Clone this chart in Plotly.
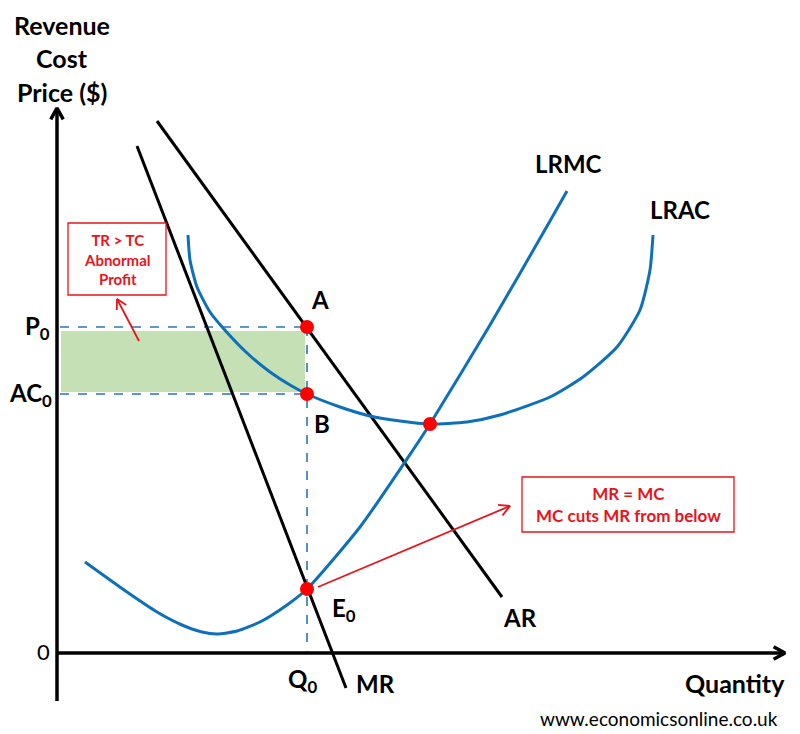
import numpy as np
import plotly.graph_objects as go

# curve points (quantity, price), origin at the axes corner
ar_q = [100, 445]
ar_p = [532, 56]

mr_q = [80, 289]
mr_p = [507, -35]

lrmc_q = [28, 70, 100, 125, 145, 160, 180, 203, 230, 250, 303, 356, 373, 433, 493, 510]
lrmc_p = [91, 61, 41, 28, 21, 19, 22, 31, 48, 64, 126, 203, 229, 328, 432, 462]

lrac_q = [131, 133, 140, 153, 166, 190, 213, 233, 250, 283, 313, 343, 373, 410, 443, 493, 526, 560, 583, 593, 596]
lrac_p = [418, 393, 366, 341, 325, 300, 281, 268, 259, 246, 237, 232, 229, 231, 238, 256, 276, 306, 343, 383, 418]

q0 = 250
p0 = 326
ac0 = 259
e0 = 64
lrac_min = (373, 229)

BLUE = "#0e70b8"
RED = "#e8141c"
FONT = "Lato"

fig = go.Figure()


def arrow(x0, y0, x1, y1, color, width, size=12):
    # shaft plus open chevron head at (x1, y1)
    ang = np.arctan2(y1 - y0, x1 - x0)
    a1 = ang + np.pi - 0.5
    a2 = ang + np.pi + 0.5
    xs = [x0, x1, None, x1 + size * np.cos(a1), x1, x1 + size * np.cos(a2)]
    ys = [y0, y1, None, y1 + size * np.sin(a1), y1, y1 + size * np.sin(a2)]
    fig.add_trace(go.Scatter(x=xs, y=ys, mode="lines", line=dict(color=color, width=width),
                             hoverinfo="skip"))


# profit rectangle
fig.add_shape(type="rect", x0=4, x1=q0 - 2, y0=ac0 + 2, y1=p0 - 4,
              fillcolor="#c5e0b4", line=dict(width=0), layer="below")

# dashed guides
fig.add_trace(go.Scatter(x=[3, q0, None, 3, q0, None, q0, q0], y=[p0, p0, None, ac0, ac0, None, p0, 0],
                         mode="lines", line=dict(color="#2e75b6", width=1.6, dash="dash")))

# axes
arrow(0, -48, 0, 545, "black", 3.5, 13)
arrow(0, 0, 728, 0, "black", 3.5, 13)

# curves
fig.add_trace(go.Scatter(x=ar_q, y=ar_p, mode="lines", line=dict(color="black", width=3)))
fig.add_trace(go.Scatter(x=mr_q, y=mr_p, mode="lines", line=dict(color="black", width=3)))
fig.add_trace(go.Scatter(x=lrmc_q, y=lrmc_p, mode="lines",
                         line=dict(color=BLUE, width=3, shape="spline", smoothing=0.6)))
fig.add_trace(go.Scatter(x=lrac_q, y=lrac_p, mode="lines",
                         line=dict(color=BLUE, width=3, shape="spline", smoothing=0.6)))

# red callout arrows
arrow(82, 312, 60, 354, RED, 1.8, 11)
arrow(261, 66, 453, 147, RED, 1.8, 12)

# intersection dots
fig.add_trace(go.Scatter(x=[q0, q0, q0, lrac_min[0]], y=[p0, ac0, e0, lrac_min[1]], mode="markers",
                         marker=dict(color="#ff0000", size=14)))

# callout boxes
fig.add_shape(type="rect", x0=11, x1=109, y0=358, y1=430, line=dict(color=RED, width=1.3),
              fillcolor="white")
fig.add_shape(type="rect", x0=465, x1=677, y0=121, y1=176, line=dict(color=RED, width=1.3),
              fillcolor="white")

labels = [
    (263, 354, "A", 24, True),
    (265, 230, "B", 24, True),
    (287, 44, "E<sub>0</sub>", 24, True),
    (463, 36, "AR", 24, True),
    (318, -30, "MR", 24, True),
    (245, -27, "Q<sub>0</sub>", 24, True),
    (-20, 326, "P<sub>0</sub>", 24, True),
    (-27, 259, "AC<sub>0</sub>", 24, True),
    (-14, 2, "0", 22, False),
    (511, 490, "LRMC", 24, True),
    (623, 444, "LRAC", 24, True),
    (678, -30, "Quantity", 25, True),
    (602, -65, "www.economicsonline.co.uk", 19, False),
    (5, 628, "Revenue", 25, True),
    (5, 595, "Cost", 25, True),
    (5, 561, "Price ($)", 25, True),
]
for x, y, t, s, b in labels:
    fig.add_annotation(x=x, y=y, text=f"<b>{t}</b>" if b else t, showarrow=False,
                       xanchor="center", yanchor="middle",
                       font=dict(family=FONT, size=s, color="black"))

fig.add_annotation(x=60, y=394, text="<b>TR > TC<br>Abnormal<br>Profit</b>", showarrow=False,
                   xanchor="center", yanchor="middle",
                   font=dict(family=FONT, size=15, color=RED))
fig.add_annotation(x=571, y=149, text="<b>MR = MC<br>MC cuts MR from below</b>", showarrow=False,
                   xanchor="center", yanchor="middle",
                   font=dict(family=FONT, size=17, color=RED))

# page body has an 8px margin, so the plot is drawn 8px smaller
fig.update_layout(
    width=792, height=726, autosize=False,
    margin=dict(l=0, r=0, t=0, b=0),
    plot_bgcolor="white", paper_bgcolor="white",
    showlegend=False,
    xaxis=dict(range=[-49, 743], visible=False, fixedrange=True),
    yaxis=dict(range=[-81, 645], visible=False, fixedrange=True),
)

fig.write_html("out.html")
